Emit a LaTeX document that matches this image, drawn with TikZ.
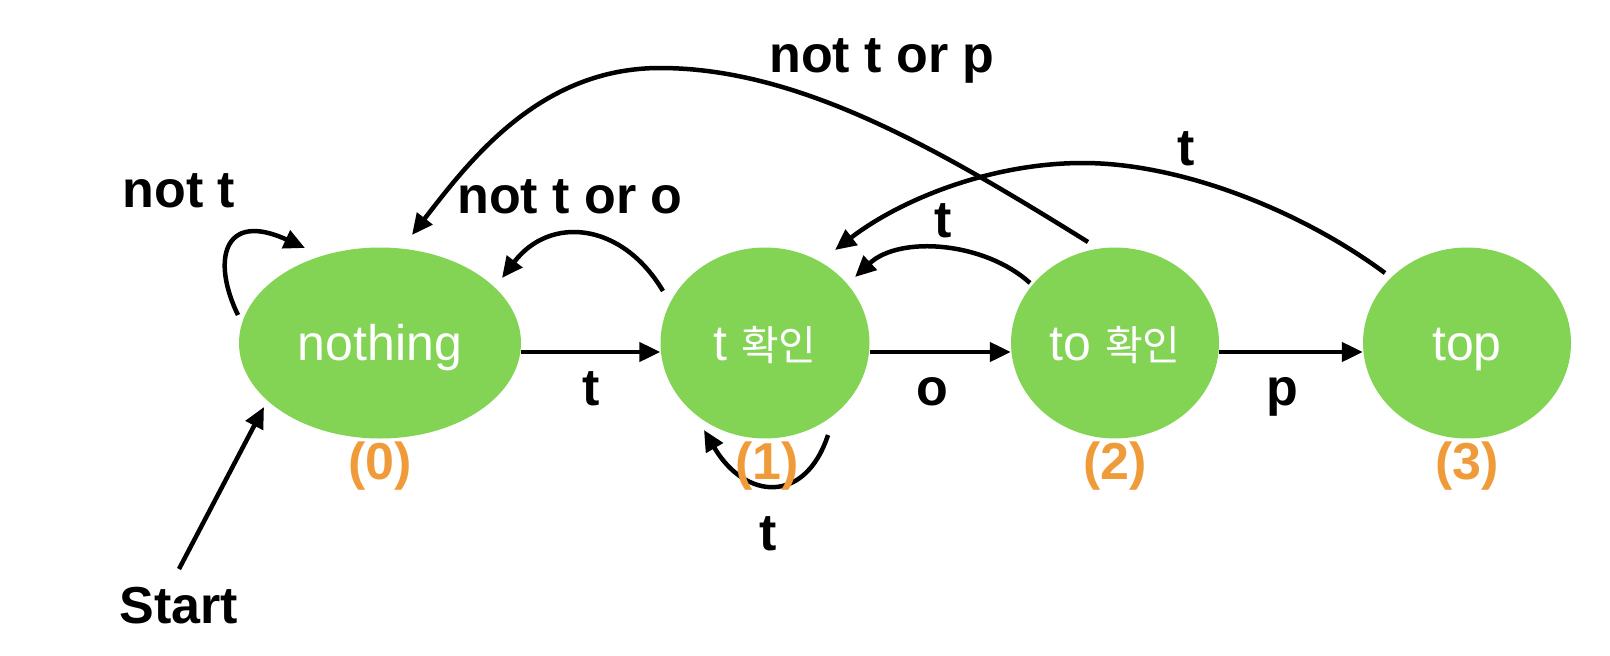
\documentclass[tikz,border=0pt]{standalone}
\usepackage{fontspec}
\setmainfont{Liberation Sans}
\newfontfamily\krfont{Noto Sans CJK KR}
\usetikzlibrary{arrows.meta,shapes.geometric}
\definecolor{stategreen}{RGB}{131,212,84}
\definecolor{numorange}{RGB}{240,155,58}
\newcommand{\kr}[1]{{\krfont\fontsize{41}{50}\selectfont #1}}
\begin{document}
\begin{tikzpicture}[x=1pt,y=-1pt,
  state/.style={ellipse, fill=stategreen, inner sep=0pt, text=white,
    font=\fontsize{50}{60}\selectfont, text height=40pt, text depth=6pt,
    minimum height=191pt},
  lab/.style={font=\bfseries\fontsize{52}{60}\selectfont, anchor=base, inner sep=0pt},
  num/.style={lab, text=numorange},
  edge/.style={line width=4.5pt, -{Triangle[length=21pt,width=19pt]}},
]
\useasboundingbox (0,0) rectangle (1610,656);

% states
\node[state, minimum width=282pt] (n0) at (380,343) {nothing};
\node[state, minimum width=209pt] (n1) at (765,343) {t \kr{확인}};
\node[state, minimum width=208pt] (n2) at (1115,343) {to \kr{확인}};
\node[state, minimum width=208pt] (n3) at (1467,343) {top};

\node[lab] (start) at (179,623) {Start};

% straight transitions
\draw[edge] ([yshift=-9pt]n0.east) -- ([yshift=-9pt]n1.west);
\draw[edge] ([yshift=-9pt]n1.east) -- ([yshift=-9pt]n2.west);
\draw[edge] ([yshift=-9pt]n2.east) -- ([yshift=-9pt]n3.west);

% start arrow
\draw[edge] ([yshift=54pt]start.base) -- ([shift={(-116,64)}]n0.center);

% self loops
\draw[edge] ([shift={(-142,-28)}]n0.center) .. controls (212,262) and (222,210) .. ([shift={(-75,-95)}]n0.center);
\draw[edge] ([shift={(63,92)}]n1.center) .. controls (805,505) and (745,500) .. ([shift={(-61,87)}]n1.center);

% back transitions
\draw[edge] ([shift={(-102,-52)}]n1.center) .. controls (622,222) and (550,215) .. ([shift={(122,-65)}]n0.center);
\draw[edge] ([shift={(-27,-101)}]n2.center) .. controls (940,150) and (800,68) .. (660,68)
  .. controls (540,68) and (470,160) .. ([shift={(32,-108)}]n0.center);
\draw[edge] ([shift={(-82,-70)}]n3.center) .. controls (1300,210) and (1180,163) .. (1083,163)
  .. controls (990,163) and (900,200) .. ([shift={(70,-93)}]n1.center);
\draw[edge] ([shift={(-85,-60)}]n2.center) .. controls (985,242) and (900,235) .. ([shift={(90,-66)}]n1.center);

% labels
\node[lab] (lnott) at (179,207) {not t};
\node[lab] (lnottoro) at (570,213) {not t or o};
\node[lab] (lnottorp) at (882,72) {not t or p};
\node[lab] (ltop) at (1186,165) {t};
\node[lab] (lto) at (943,237) {t};
\node[lab] (lt) at (591,405) {t};
\node[lab] (lo) at (932,405) {o};
\node[lab] (lp) at (1282,405) {p};
\node[lab] (lloop) at (768,550) {t};

\node[num] (num0) at (380,479) {(0)};
\node[num] (num1) at (767,479) {(1)};
\node[num] (num2) at (1115,479) {(2)};
\node[num] (num3) at (1467,479) {(3)};
\end{tikzpicture}
\end{document}
